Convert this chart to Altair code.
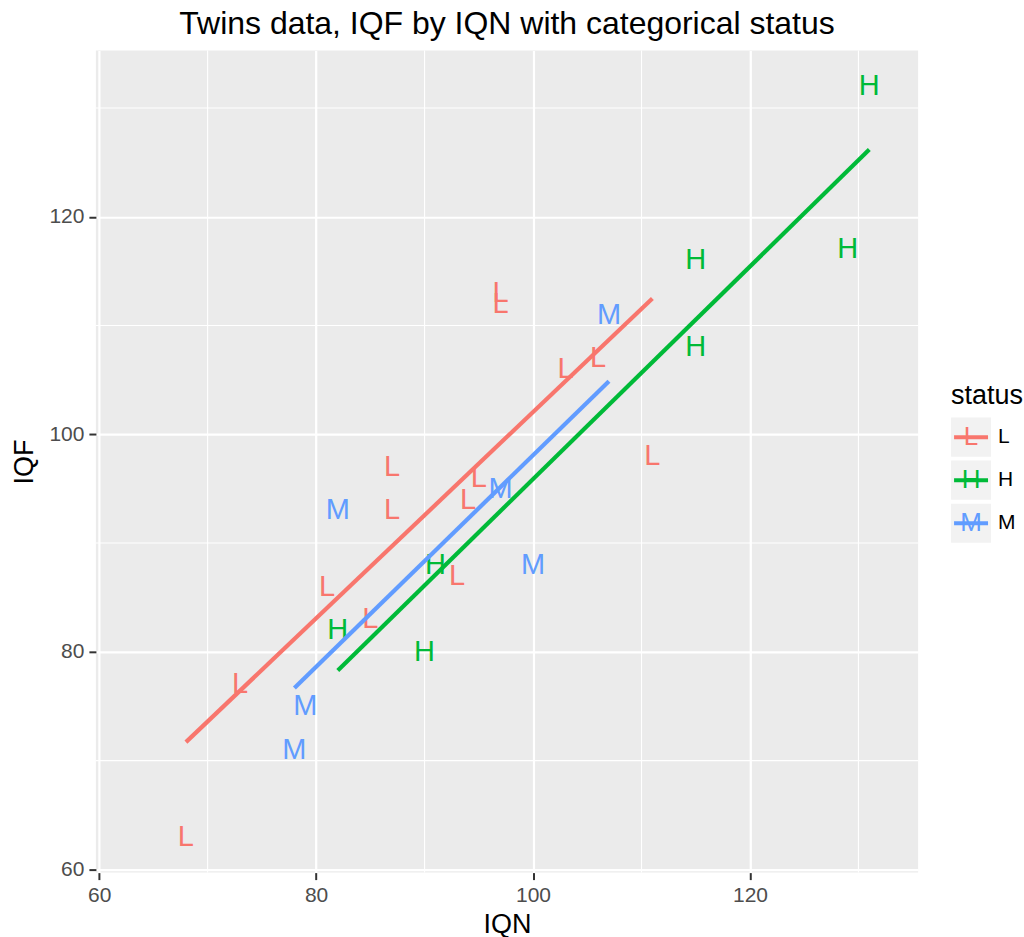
import altair as alt
import pandas as pd

# Burt's twins: foster twin IQ (IQF) vs natural twin IQ (IQN), by social status
iqn = [82, 90, 91, 115, 115, 129, 131,
       78, 79, 82, 97, 100, 107,
       68, 73, 81, 85, 87, 87, 93, 94, 95, 97, 97, 103, 106, 111]
iqf = [82, 80, 88, 108, 116, 117, 132,
       71, 75, 93, 95, 88, 111,
       63, 77, 86, 83, 93, 97, 87, 94, 96, 112, 113, 106, 107, 98]
status = ["H"] * 7 + ["M"] * 6 + ["L"] * 14

levels = ["L", "H", "M"]
palette = ["#F8766D", "#00BA38", "#619CFF"]

major_ticks = [60, 80, 100, 120]
minor_ticks = [70, 90, 110, 130]

df = pd.DataFrame({"IQN": iqn, "IQF": iqf, "status": status})
minor_df = pd.DataFrame({"v": minor_ticks})
legend_df = pd.DataFrame({"status": levels})

FONT = "Liberation Sans"
color = alt.Color("status:N", scale=alt.Scale(domain=levels, range=palette), legend=None)

X_DOMAIN = [59.7, 135.5]
Y_DOMAIN = [59.7, 135.3]

x_enc = alt.X("IQN:Q", title="IQN",
              scale=alt.Scale(domain=X_DOMAIN, nice=False, zero=False),
              axis=alt.Axis(values=major_ticks))
y_enc = alt.Y("IQF:Q", title="IQF",
              scale=alt.Scale(domain=Y_DOMAIN, nice=False, zero=False),
              axis=alt.Axis(values=major_ticks))

# thin minor grid lines between the major ticks
minor_x = alt.Chart(minor_df).mark_rule(color="white", strokeWidth=1.1).encode(
    x=alt.X("v:Q", scale=alt.Scale(domain=X_DOMAIN, nice=False, zero=False)))
minor_y = alt.Chart(minor_df).mark_rule(color="white", strokeWidth=1.1).encode(
    y=alt.Y("v:Q", scale=alt.Scale(domain=Y_DOMAIN, nice=False, zero=False)))

base = alt.Chart(df)
letters = base.mark_text(font=FONT, fontSize=29, baseline="middle", align="center").encode(
    x=x_enc, y=y_enc, text="status:N", color=color)
fits = base.transform_regression("IQN", "IQF", groupby=["status"]).mark_line(
    strokeWidth=4.2).encode(x=x_enc, y=y_enc, color=color, detail="status:N")

main = alt.layer(minor_x, minor_y, letters, fits).properties(
    width=823, height=823,
    title=alt.TitleParams("Twins data, IQF by IQN with categorical status",
                          fontSize=32, font=FONT, fontWeight="normal",
                          color="black", offset=9),
)

# legend: grey key boxes with a coloured line and letter, then the label
leg_y = alt.Y("status:N",
              scale=alt.Scale(domain=levels, paddingInner=0.09, paddingOuter=0.32, align=0),
              axis=None)
leg_base = alt.Chart(legend_df)
keys = leg_base.mark_rect(color="#F2F2F2").encode(
    x=alt.value(0), x2=alt.value(40), y=leg_y)
key_lines = leg_base.mark_rule(strokeWidth=4).encode(
    x=alt.value(3), x2=alt.value(37), y=leg_y, color=color)
key_text = leg_base.mark_text(font=FONT, fontSize=26, baseline="middle", align="center").encode(
    x=alt.value(20), y=leg_y, text="status:N", color=color)
key_labels = leg_base.mark_text(font=FONT, fontSize=21, baseline="middle", align="left",
                                color="black").encode(
    x=alt.value(47), y=leg_y, text="status:N")
legend = alt.layer(keys, key_lines, key_text, key_labels).properties(
    width=72, height=153,
    view=alt.ViewBackground(fill="white", stroke=None),
    title=alt.TitleParams("status", fontSize=27, font=FONT, fontWeight="normal",
                          color="black", anchor="start", offset=8),
)

chart = alt.hconcat(main, legend, spacing=32, center=True).properties(
    padding={"left": 10, "top": 7, "right": 0, "bottom": 0},
    background="white",
).configure_view(
    fill="#EBEBEB", stroke=None
).configure_axis(
    domain=False, grid=True, gridColor="white", gridWidth=2.2,
    ticks=True, tickColor="#333333", tickSize=7, tickWidth=2,
    labelFont=FONT, labelFontSize=21, labelColor="#4D4D4D", labelPadding=5,
    titleFont=FONT, titleFontSize=27, titleColor="black", titleFontWeight="normal",
).configure_axisX(titlePadding=6).configure_axisY(titlePadding=10)

chart.save("out.html", embed_options={"renderer": "svg", "actions": False})
